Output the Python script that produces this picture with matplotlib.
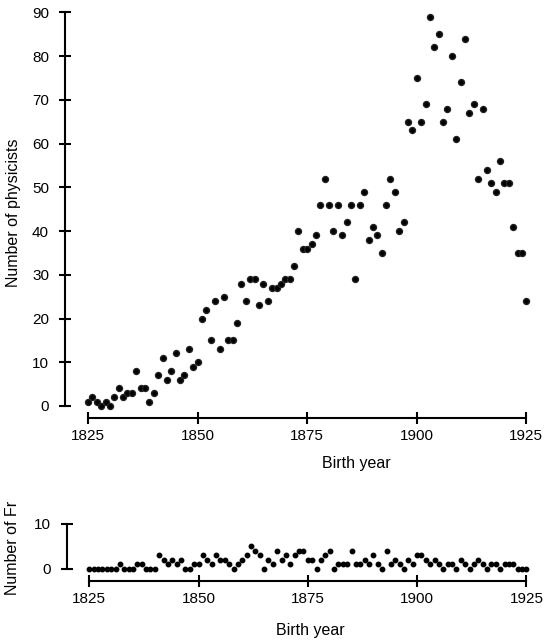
import matplotlib
matplotlib.use("Agg")
import matplotlib.pyplot as plt

# --- data ---
years = list(range(1825, 1926))
physicists = [
    1, 2, 1, 0, 1, 0, 2, 4, 2, 3,        # 1825-1834
    3, 8, 4, 4, 1, 3, 7, 11, 6, 8,       # 1835-1844
    12, 6, 7, 13, 9, 10, 20, 22, 15, 24,  # 1845-1854
    13, 25, 15, 15, 19, 28, 24, 29, 29, 23,  # 1855-1864
    28, 24, 27, 27, 28, 29, 29, 32, 40, 36,  # 1865-1874
    36, 37, 39, 46, 52, 46, 40, 46, 39, 42,  # 1875-1884
    46, 29, 46, 49, 38, 41, 39, 35, 46, 52,  # 1885-1894
    49, 40, 42, 65, 63, 75, 65, 69, 89, 82,  # 1895-1904
    85, 65, 68, 80, 61, 74, 84, 67, 69, 52,  # 1905-1914
    68, 54, 51, 49, 56, 51, 51, 41, 35, 35,  # 1915-1924
    24,                                   # 1925
]
fr = [
    0, 0, 0, 0, 0, 0, 0, 1, 0, 0,   # 1825-1834
    0, 1, 1, 0, 0, 0, 3, 2, 1, 2,   # 1835-1844
    1, 2, 0, 0, 1, 1, 3, 2, 1, 3,   # 1845-1854
    2, 2, 1, 0, 1, 2, 3, 5, 4, 3,   # 1855-1864
    0, 2, 1, 4, 2, 3, 1, 3, 4, 4,   # 1865-1874
    2, 2, 0, 2, 3, 4, 0, 1, 1, 1,   # 1875-1884
    4, 1, 1, 2, 1, 3, 1, 0, 4, 1,   # 1885-1894
    2, 1, 0, 2, 1, 3, 3, 2, 1, 2,   # 1895-1904
    1, 0, 1, 1, 0, 2, 1, 0, 1, 2,   # 1905-1914
    1, 0, 1, 1, 0, 1, 1, 1, 0, 0,   # 1915-1924
    0,                              # 1925
]
x_ticks = [1825, 1850, 1875, 1900, 1925]
top_yticks = [0, 10, 20, 30, 40, 50, 60, 70, 80, 90]
bot_yticks = [0, 10]

plt.rcParams["font.family"] = ["Liberation Sans", "DejaVu Sans"]
plt.rcParams["font.size"] = 11

W, H = 544, 642
fig = plt.figure(figsize=(W / 100, H / 100), dpi=100)


def px_axes(left, top, right, bottom):
    return fig.add_axes([left / W, 1 - bottom / H, (right - left) / W, (bottom - top) / H])


def style(ax, ybounds):
    for s in ("top", "right"):
        ax.spines[s].set_visible(False)
    ax.spines["left"].set_bounds(*ybounds)
    ax.spines["bottom"].set_bounds(1825, 1925)
    for s in ("left", "bottom"):
        ax.spines[s].set_linewidth(1.5)
    ax.tick_params(direction="inout", length=9, width=1.5, labelsize=11)
    ax.tick_params(axis="y", pad=7)
    ax.set_xticks(x_ticks)


# top panel: physicists
ax1 = px_axes(65, 8, 536, 418)
ax1.plot(years, physicists, "o", color="black", ms=4.3, mec="#222222")
ax1.set_xlim(1819.75, 1927.2)
ax1.set_ylim(-2.75, 91)
ax1.set_yticks(top_yticks)
style(ax1, (0, 90))
ax1.set_ylabel("Number of physicists", fontsize=11.5, labelpad=8)
ax1.set_xlabel("Birth year", fontsize=11.5)
ax1.xaxis.set_label_coords((356 - 65) / 471, -0.093)

# bottom panel: Fr
ax2 = px_axes(67, 515, 536, 581)
ax2.plot(years, fr, "o", color="black", ms=3.2)
ax2.set_xlim(1819.9, 1927.2)
ax2.set_ylim(-2.67, 12)
ax2.set_yticks(bot_yticks)
style(ax2, (0, 10))
ax2.set_ylabel("Number of Fr", fontsize=11.5, labelpad=10)
ax2.set_xlabel("Birth year", fontsize=11.5)
ax2.xaxis.set_label_coords((310 - 67) / 469, -0.64)

fig.savefig("out.png", dpi=100)
